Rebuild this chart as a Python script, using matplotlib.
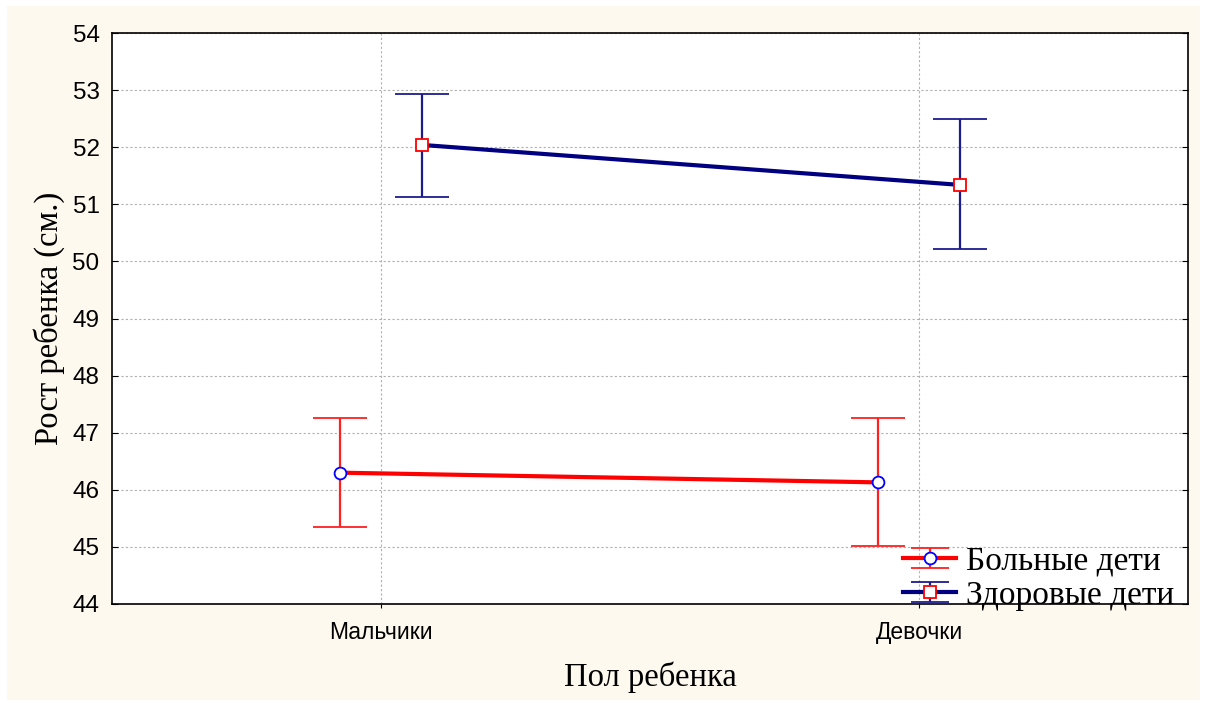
import numpy as np
import matplotlib.pyplot as plt
from matplotlib.patches import Rectangle
from matplotlib.container import ErrorbarContainer
from matplotlib.legend_handler import HandlerErrorbar

# Data
categories = ["Мальчики", "Девочки"]
series_names = ["Больные дети", "Здоровые дети"]

sick_mean = [46.30, 46.13]
sick_upper = [47.26, 47.26]
sick_lower = [45.34, 45.02]

healthy_mean = [52.04, 51.34]
healthy_upper = [52.94, 52.49]
healthy_lower = [51.13, 50.21]

fig = plt.figure(figsize=(12.07, 7.06), dpi=100)
fig.patch.set_facecolor("white")
fig.patches.append(Rectangle((7 / 1207, 6 / 706), 1193 / 1207, 694 / 706,
                             transform=fig.transFigure, facecolor="#FEF9EF",
                             edgecolor="none", zorder=-10))

ax = fig.add_axes([112 / 1207, 1 - 604 / 706, 1076 / 1207, 571 / 706])
ax.set_facecolor("white")

x = np.arange(len(categories))
offset = 0.076

def draw(xpos, mean, lo, hi, color, ecolor, marker, mfc, mec, label):
    mean = np.array(mean)
    yerr = [mean - np.array(lo), np.array(hi) - mean]
    ax.errorbar(xpos, mean, yerr=yerr, color=color, ecolor=ecolor, lw=3,
                elinewidth=1.6, capsize=19.5, capthick=1.6,
                marker=marker, ms=8.5, mfc=mfc, mec=mec, mew=1.3,
                label=label, zorder=3)

draw(x - offset, sick_mean, sick_lower, sick_upper, "#FF0000", "#FF2020",
     "o", "white", "#0000FF", series_names[0])
draw(x + offset, healthy_mean, healthy_lower, healthy_upper, "#000080", "#1C1C90",
     "s", "white", "#FF0000", series_names[1])

ax.set_xlim(-0.5, 1.5)
ax.set_ylim(44, 54)
ax.set_xticks(x)
ax.set_xticklabels(categories, family="Liberation Sans", fontsize=16.5)
ax.set_yticks(np.arange(44, 55, 1))
ax.set_yticklabels([str(v) for v in range(44, 55)], family="Liberation Sans", fontsize=17.5)
ax.tick_params(axis="y", direction="in", length=4, right=True, pad=9)
ax.tick_params(axis="x", direction="out", length=3, pad=9)
ax.grid(True, color="#B0B0B0", linestyle=(0, (2, 2)), lw=0.8, zorder=0)
for s in ax.spines.values():
    s.set_linewidth(1.2)

ax.set_xlabel("Пол ребенка", family="Liberation Serif", fontsize=23.5, labelpad=13)
ax.set_ylabel("Рост ребенка (см.)", family="Liberation Serif", fontsize=23.5, labelpad=5)


def small_caps(legend_handle, orig_handle):
    # legend caps narrower than the ones on the plot
    legend_handle.update_from(orig_handle)
    if hasattr(legend_handle, "get_marker") and legend_handle.get_marker() == "_":
        legend_handle.set_markersize(27)


leg = ax.legend(loc="lower right", bbox_to_anchor=(1.0, -0.035), frameon=False,
                prop={"family": "Liberation Serif", "size": 24},
                handlelength=1.6, handletextpad=0.3, labelspacing=0.1,
                borderaxespad=0.0,
                handler_map={ErrorbarContainer: HandlerErrorbar(yerr_size=0.3,
                                                                update_func=small_caps)})

fig.savefig("out.png", dpi=100)
